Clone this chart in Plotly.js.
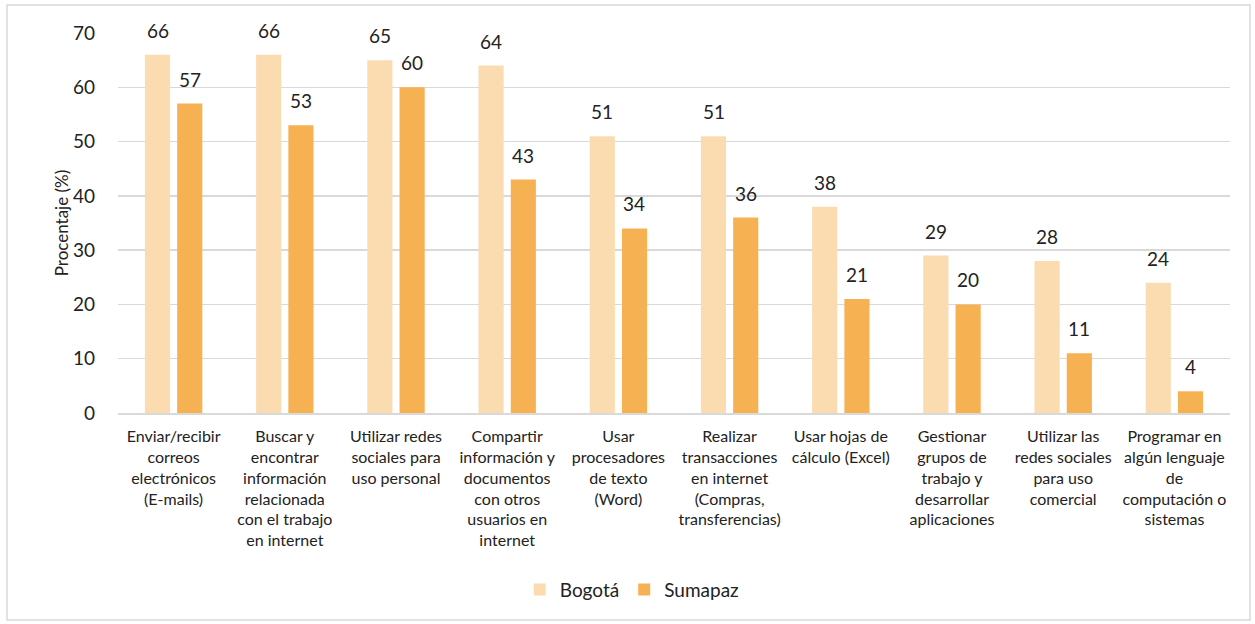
<!DOCTYPE html>
<html><head><meta charset="utf-8">
<script src="https://cdn.plot.ly/plotly-3.0.1.min.js"></script>
<style>html,body{margin:0;padding:0;background:#fff}#c{width:1255px;height:624px}</style>
</head><body><div id="c"></div>
<script>
const categories = [
  "Enviar/recibir<br>correos<br>electrónicos<br>(E-mails)",
  "Buscar y<br>encontrar<br>información<br>relacionada<br>con el trabajo<br>en internet",
  "Utilizar redes<br>sociales para<br>uso personal",
  "Compartir<br>información y<br>documentos<br>con otros<br>usuarios en<br>internet",
  "Usar<br>procesadores<br>de texto<br>(Word)",
  "Realizar<br>transacciones<br>en internet<br>(Compras,<br>transferencias)",
  "Usar hojas de<br>cálculo (Excel)",
  "Gestionar<br>grupos de<br>trabajo y<br>desarrollar<br>aplicaciones",
  "Utilizar las<br>redes sociales<br>para uso<br>comercial",
  "Programar en<br>algún lenguaje<br>de<br>computación o<br>sistemas"
];
const bogota = [66, 66, 65, 64, 51, 51, 38, 29, 28, 24];
const sumapaz = [57, 53, 60, 43, 34, 36, 21, 20, 11, 4];
const seriesNames = ["Bogotá", "Sumapaz"];
const colors = ["#fbdcb0", "#f6b153"];

const font = "Lato, 'Liberation Sans', sans-serif";
const traces = [
  {type:'bar', name:seriesNames[0], x:categories, y:bogota, marker:{color:colors[0]}, hoverinfo:'none'},
  {type:'bar', name:seriesNames[1], x:categories, y:sumapaz, marker:{color:colors[1]}, hoverinfo:'none'}
];
const annotations = [];
[bogota, sumapaz].forEach((vals, s) => {
  vals.forEach((v, i) => {
    annotations.push({x:categories[i], y:v, xref:'x', yref:'y', text:String(v), showarrow:false,
      xshift: s===0 ? -16 : 16, yanchor:'bottom', yshift:11, font:{size:19, color:'#222', family:font}});
  });
});
const layout = {
  width:1255, height:624,
  margin:{l:118, r:25, t:33, b:211},
  paper_bgcolor:'#fff', plot_bgcolor:'#fff',
  font:{family:font, color:'#222'},
  barmode:'group', bargap:0.42, bargroupgap:0.22,
  showlegend:true,
  legend:{orientation:'h', x:0.462, xanchor:'center', y:-0.465, yanchor:'middle', font:{size:19, family:font, color:'#222'}, itemwidth:30, traceorder:'normal'},
  xaxis:{tickfont:{size:16, family:font, color:'#222'}, showline:true, linecolor:'#d9d9d9', linewidth:2, ticks:'', tickangle:0, ticklabelstandoff:8, automargin:false},
  yaxis:{range:[0,70], dtick:10, tick0:0, showgrid:true, gridcolor:'#d9d9d9', gridwidth:1.5, zeroline:false, showline:false,
    tickfont:{size:19, family:font, color:'#222'}, ticklabelstandoff:22,
    title:{text:'Procentaje (%)', font:{size:17, family:font, color:'#222'}, standoff:0}, automargin:false},
  annotations:annotations,
  shapes:[{type:'rect', xref:'paper', yref:'paper', x0:-0.0998, x1:1.018, y0:-0.545, y1:1.0737, line:{color:'#d9d9d9', width:1.5}, fillcolor:'rgba(0,0,0,0)', layer:'below'}]
};
Plotly.newPlot('c', traces, layout, {staticPlot:true});
</script></body></html>
